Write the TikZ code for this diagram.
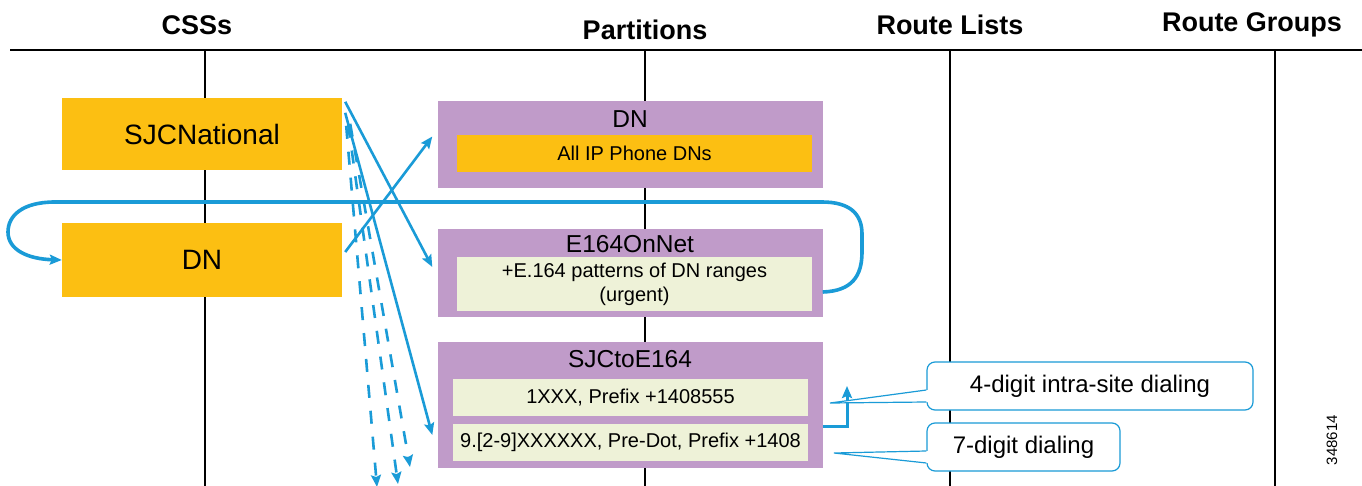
\documentclass[tikz,border=0pt]{standalone}
\usepackage{fontspec}
\setmainfont{Liberation Sans}
\usetikzlibrary{arrows.meta,calc}
\definecolor{cssorange}{RGB}{252,191,18}
\definecolor{partpurple}{RGB}{192,155,201}
\definecolor{paleyellow}{RGB}{238,242,216}
\definecolor{linkblue}{RGB}{26,155,215}
\begin{document}
\begin{tikzpicture}[x=1pt,y=-1pt,
  hdr/.style={font=\bfseries\fontsize{27}{31}\selectfont, inner sep=0pt},
  axis/.style={line width=2pt, black},
  cssbox/.style={fill=cssorange, minimum width=280pt, inner sep=0pt, font=\fontsize{28}{32}\selectfont},
  partbox/.style={fill=partpurple, minimum width=385pt, inner sep=0pt},
  ptitle/.style={font=\fontsize{24.5}{28}\selectfont, inner sep=0pt},
  innerbox/.style={minimum width=355pt, inner sep=0pt, font=\fontsize{20}{24}\selectfont, align=center},
  tip/.style={-{Stealth[length=12pt,width=10pt,inset=2pt]}},
  conn/.style={draw=linkblue, line width=2.6pt, tip},
  dconn/.style={conn, dash pattern=on 13pt off 13pt},
  loopline/.style={draw=linkblue, line width=3.6pt, tip},
  callout/.style={draw=linkblue, line width=1.2pt, fill=white, rounded corners=8pt, minimum height=48pt, inner sep=0pt, font=\fontsize{24}{28}\selectfont},
  wedge/.style={draw=linkblue, line width=1.2pt}
]
\useasboundingbox (0,0) rectangle (1362,486);
\fill[white] (0,0) rectangle (1362,486);

% headers
\node[hdr] (hcss) at (197,25) {CSSs};
\node[hdr] (hpart) at (645,30) {Partitions};
\node[hdr] (hrl) at (950,25) {Route Lists};
\node[hdr] (hrg) at (1252,25) {Route Groups};
\coordinate (hl) at (10,50);
\coordinate (hr) at (1362,50);
\draw[line width=2.6pt] (hl) -- (hr);

% vertical axes
\coordinate (a1t) at (205,50); \coordinate (a1b) at (205,486);
\coordinate (a2t) at (645,50); \coordinate (a2b) at (645,486);
\coordinate (a3t) at (950,50); \coordinate (a3b) at (950,486);
\coordinate (a4t) at (1275,50); \coordinate (a4b) at (1275,486);
\draw[axis] (a1t) -- (a1b);
\draw[axis] (a2t) -- (a2b);
\draw[axis] (a3t) -- (a3b);
\draw[axis] (a4t) -- (a4b);

% CSS boxes
\node[cssbox, minimum height=72pt] (sjc) at (202,134) {SJCNational};
\node[cssbox, minimum height=74pt] (cssdn) at (202,260) {DN};

% partitions
\node[partbox, minimum height=87pt] (pdn) at (630,144.5) {};
\node[ptitle] (pdnt) at (630,119) {DN};
\node[innerbox, fill=cssorange, minimum height=37pt] (pdni) at (634.5,153.5) {All IP Phone DNs};

\node[partbox, minimum height=88pt] (e164) at (630,273) {};
\node[ptitle] (e164t) at (630,244) {E164OnNet};
\node[innerbox, fill=paleyellow, minimum height=54pt] (e164i) at (634.5,284) {+E.164 patterns of DN ranges\\(urgent)};

\node[partbox, minimum height=126pt] (sjce) at (630,405) {};
\node[ptitle] (sjcet) at (630,359) {SJCtoE164};
\node[innerbox, fill=paleyellow, minimum height=37pt] (sjci1) at (630.5,397.5) {1XXX, Prefix +1408555};
\node[innerbox, fill=paleyellow, minimum height=37pt] (sjci2) at (630.5,442.5) {9.[2-9]XXXXXX, Pre-Dot, Prefix +1408};

% loop from E164OnNet back to DN css
\draw[loopline] ($(e164.east)+(0,19)$) .. controls (852,291) and (862,276) .. (862,252)
  -- (862,234) .. controls (862,214) and (850,202) .. (822,202)
  -- (55,202) .. controls (22,202) and (8,216) .. (8,232)
  .. controls (8,250) and (28,259) .. (cssdn.west);

% solid connectors
\draw[conn] ($(sjc.north east)+(3,4)$) -- ($(e164.west)+(-5,-6)$);
\draw[conn] ($(sjc.north east)+(3,15)$) -- ($(sjce.west)+(-5,30)$);
\draw[conn] ($(cssdn.east)+(3,-8)$) -- ($(pdn.west)+(-5,-8)$);

% dashed connectors with free ends
\coordinate (d1) at (377,487);
\coordinate (d2) at (398,484);
\coordinate (d3) at (410,467);
\draw[dconn] ($(sjc.north east)+(4,28)$) -- (d1);
\draw[dconn] ($(sjc.north east)+(6,27)$) -- (d2);
\draw[dconn] ($(sjc.north east)+(8,26)$) -- (d3);

% step arrow
\coordinate (stepc) at (847,426);
\coordinate (stepe) at (847,386);
\draw[loopline, line width=3pt] (sjce.east |- stepc) -- (stepc) -- (stepe);

% callouts
\node[callout, minimum width=326pt] (c1) at (1090,386) {4-digit intra-site dialing};
\node[callout, minimum width=193pt] (c2) at (1023.5,447) {7-digit dialing};
\coordinate (w1) at (830,403);
\coordinate (w2) at (834,453);
\fill[white] ($(c1.west)+(1.5,4)$) -- (w1) -- ($(c1.west)+(1.5,16)$) -- cycle;
\draw[wedge] ($(c1.west)+(0,4)$) -- (w1) -- ($(c1.west)+(0,16)$);
\fill[white] ($(c2.west)+(1.5,4)$) -- (w2) -- ($(c2.west)+(1.5,16)$) -- cycle;
\draw[wedge] ($(c2.west)+(0,4)$) -- (w2) -- ($(c2.west)+(0,16)$);

% figure number
\node[rotate=90, font=\fontsize{15}{18}\selectfont, inner sep=0pt] (fignum) at (1332,440) {348614};
\end{tikzpicture}
\end{document}
